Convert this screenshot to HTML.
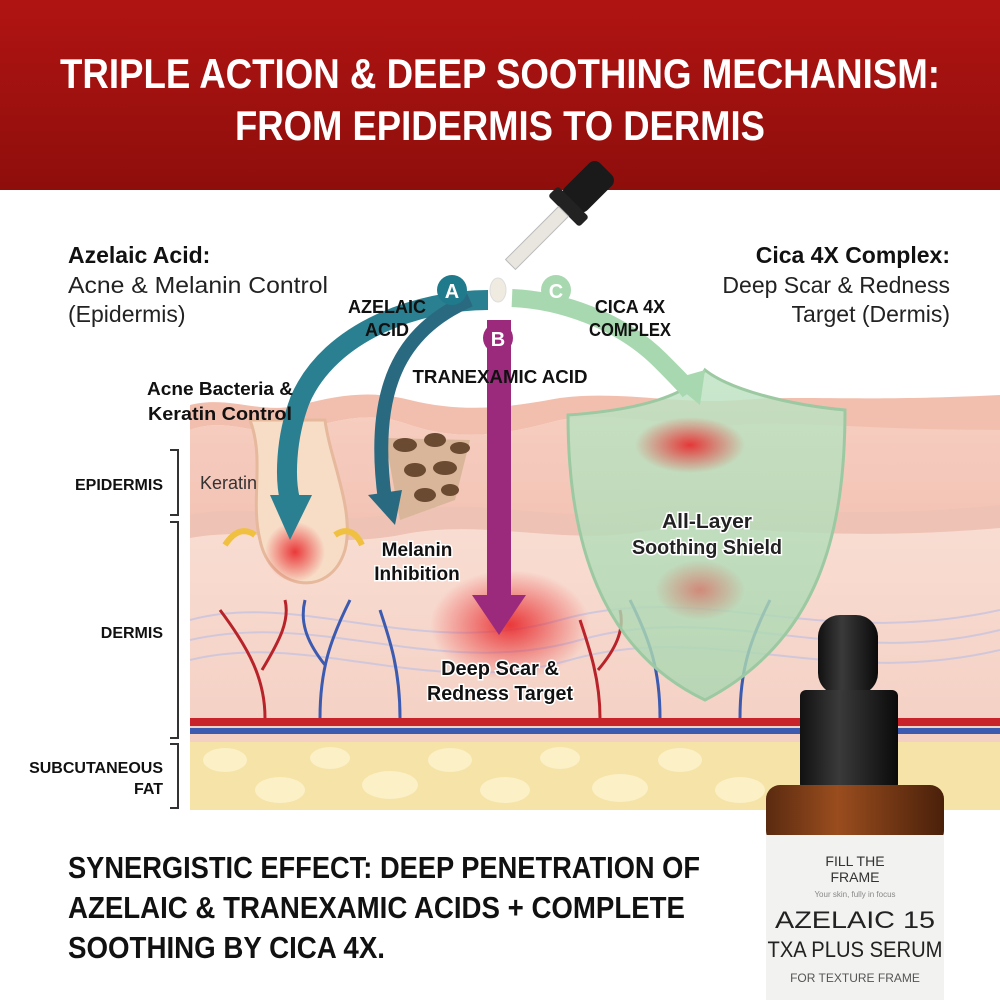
<!DOCTYPE html>
<html><head><meta charset="utf-8"><style>
html,body{margin:0;padding:0;background:#fff}
svg{display:block}
text{font-family:"Liberation Sans",sans-serif}
</style></head><body>
<svg width="1000" height="1000" viewBox="0 0 1000 1000" xmlns="http://www.w3.org/2000/svg">
<defs>
<linearGradient id="hdr" x1="0" y1="0" x2="0" y2="1"><stop offset="0" stop-color="#b01412"/><stop offset="1" stop-color="#8e0e0c"/></linearGradient>
<linearGradient id="epi" x1="0" y1="0" x2="0" y2="1"><stop offset="0" stop-color="#f6cdbf"/><stop offset="1" stop-color="#f3c4b6"/></linearGradient>
<linearGradient id="derm" x1="0" y1="0" x2="0" y2="1"><stop offset="0" stop-color="#f9ddd2"/><stop offset="1" stop-color="#f4d0c4"/></linearGradient>
<radialGradient id="red" cx="0.5" cy="0.5" r="0.5"><stop offset="0" stop-color="#e8262a" stop-opacity="0.9"/><stop offset="1" stop-color="#e8262a" stop-opacity="0"/></radialGradient>
<linearGradient id="shield" x1="0" y1="0" x2="0" y2="1"><stop offset="0" stop-color="#bfe3c3" stop-opacity="0.85"/><stop offset="1" stop-color="#a9d7b0" stop-opacity="0.8"/></linearGradient>
<linearGradient id="brown" x1="0" y1="0" x2="1" y2="0"><stop offset="0" stop-color="#5a2a10"/><stop offset="0.4" stop-color="#9a4d1e"/><stop offset="1" stop-color="#4a200a"/></linearGradient>
<linearGradient id="cap" x1="0" y1="0" x2="1" y2="0"><stop offset="0" stop-color="#111"/><stop offset="0.4" stop-color="#3a3a3a"/><stop offset="1" stop-color="#0a0a0a"/></linearGradient>
</defs>

<rect x="0" y="0" width="1000" height="190" fill="url(#hdr)"/>
<text x="500" y="88" text-anchor="middle" fill="#fff" font-size="42" font-weight="bold" textLength="880" lengthAdjust="spacingAndGlyphs">TRIPLE ACTION &amp; DEEP SOOTHING MECHANISM:</text>
<text x="500" y="140" text-anchor="middle" fill="#fff" font-size="42" font-weight="bold" textLength="530" lengthAdjust="spacingAndGlyphs">FROM EPIDERMIS TO DERMIS</text>

<rect x="190" y="742" width="810" height="68" fill="#f6e3a8"/>
<g fill="#fbf0c6">
<ellipse cx="225" cy="760" rx="22" ry="12"/><ellipse cx="280" cy="790" rx="25" ry="13"/><ellipse cx="330" cy="758" rx="20" ry="11"/>
<ellipse cx="390" cy="785" rx="28" ry="14"/><ellipse cx="450" cy="760" rx="22" ry="12"/><ellipse cx="505" cy="790" rx="25" ry="13"/>
<ellipse cx="560" cy="758" rx="20" ry="11"/><ellipse cx="620" cy="788" rx="28" ry="14"/><ellipse cx="680" cy="760" rx="22" ry="12"/>
<ellipse cx="740" cy="790" rx="25" ry="13"/></g>
<rect x="190" y="520" width="810" height="222" fill="url(#derm)"/>
<path d="M190,430 C230,415 260,440 300,430 C340,420 370,410 410,425 C470,445 520,430 560,420 C620,410 680,430 740,425 C800,420 860,430 1000,420 L1000,520 L190,520Z" fill="url(#epi)"/>
<path d="M190,405 C230,395 260,415 300,405 C340,395 370,390 410,400 C470,415 520,405 560,398 C620,390 680,405 740,400 C800,395 860,402 1000,395 L1000,430 C860,430 800,420 740,425 C680,430 620,410 560,420 C520,430 470,445 410,425 C370,410 340,420 300,430 C260,440 230,415 190,430Z" fill="#f2bfae"/>
<path d="M190,515 C260,500 320,530 400,512 C480,495 560,525 640,510 C720,495 800,525 1000,505 L1000,528 C800,545 720,518 640,532 C560,545 480,518 400,535 C320,550 260,525 190,538Z" fill="#eec2b4"/>
<g fill="none" stroke="#c8c4e0" stroke-width="2" opacity="0.8">
<path d="M190,620 C300,590 420,660 560,620 C700,580 820,650 1000,610"/>
<path d="M190,640 C320,610 440,680 580,640 C720,600 840,670 1000,630"/>
<path d="M190,660 C310,630 430,700 570,660 C710,620 830,690 1000,650"/>
</g>
<rect x="190" y="718" width="810" height="8" fill="#c8232a"/>
<rect x="190" y="728" width="810" height="6" fill="#3c5bb0"/>
<g fill="none" stroke-width="3">
<path d="M265,718 C265,680 250,650 220,610 M262,670 C280,640 290,620 285,600" stroke="#b8232a"/>
<path d="M320,718 C320,670 330,640 350,600 M325,665 C305,640 300,620 305,600" stroke="#3c5bb0"/>
<path d="M400,718 C400,670 390,640 380,610" stroke="#3c5bb0"/>
<path d="M600,718 C600,680 590,650 580,620 M598,670 C615,650 625,630 620,610" stroke="#b8232a"/>
<path d="M660,718 C660,670 650,640 630,600" stroke="#3c5bb0"/>
<path d="M740,718 C740,670 750,640 770,600" stroke="#3c5bb0"/>
</g>
<path d="M250,420 C265,460 250,500 260,540 C270,590 330,600 345,550 C355,510 330,460 325,420Z" fill="#f7dcc6" stroke="#e6b89c" stroke-width="3"/>
<circle cx="295" cy="552" r="30" fill="url(#red)"/>
<path d="M225,545 C235,530 245,528 255,535" stroke="#f0c040" stroke-width="6" fill="none"/>
<path d="M335,535 C345,528 355,530 362,545" stroke="#f0c040" stroke-width="6" fill="none"/>
<path d="M385,438 L470,440 L455,500 L400,520Z" fill="#d9b69a"/>
<g fill="#6b4a32"><ellipse cx="405" cy="445" rx="12" ry="7"/><ellipse cx="435" cy="440" rx="11" ry="7"/><ellipse cx="460" cy="448" rx="10" ry="6"/>
<ellipse cx="415" cy="470" rx="11" ry="7"/><ellipse cx="445" cy="468" rx="12" ry="7"/><ellipse cx="425" cy="495" rx="11" ry="7"/><ellipse cx="450" cy="490" rx="9" ry="6"/></g>
<ellipse cx="510" cy="625" rx="80" ry="55" fill="url(#red)"/>

<path d="M568,415 C640,410 690,395 705,370 C730,390 790,405 845,410 C845,530 820,640 705,700 C600,650 568,540 568,415Z" fill="url(#shield)" stroke="#9cc9a2" stroke-width="3"/>
<ellipse cx="690" cy="445" rx="55" ry="28" fill="url(#red)"/>
<ellipse cx="700" cy="590" rx="45" ry="30" fill="url(#red)" opacity="0.5"/>
<text x="707" y="528" text-anchor="middle" font-size="20" font-weight="bold" fill="#222" stroke="#fff" stroke-width="3" paint-order="stroke" textLength="90" lengthAdjust="spacingAndGlyphs">All-Layer</text>
<text x="707" y="554" text-anchor="middle" font-size="20" font-weight="bold" fill="#222" stroke="#fff" stroke-width="3" paint-order="stroke" textLength="150" lengthAdjust="spacingAndGlyphs">Soothing Shield</text>

<path d="M488,300 C420,300 330,330 300,400 C285,440 285,480 290,500" fill="none" stroke="#2a8090" stroke-width="20"/>
<path d="M270,495 L290,540 L312,495Z" fill="#2a8090"/>
<path d="M470,300 C400,330 370,390 385,500" fill="none" stroke="#2a6a80" stroke-width="14"/>
<path d="M368,495 L395,525 L402,490Z" fill="#2a6a80"/>
<rect x="487" y="320" width="24" height="280" fill="#9b2a7c"/>
<path d="M472,595 L499,635 L526,595Z" fill="#9b2a7c"/>
<path d="M512,298 C560,300 620,320 660,360 C675,375 685,385 690,392" fill="none" stroke="#a8d8b0" stroke-width="18"/>
<path d="M670,380 L700,405 L705,370Z" fill="#a8d8b0"/>

<g transform="rotate(45 560 215)">
<rect x="544" y="150" width="32" height="50" rx="8" fill="#1a1a1a"/>
<rect x="538" y="196" width="44" height="14" rx="3" fill="#222"/>
<rect x="553" y="210" width="14" height="75" fill="#e8e6df" stroke="#bbb"/>
</g>
<ellipse cx="498" cy="290" rx="8" ry="12" fill="#f0ebe0" stroke="#ddd"/>

<circle cx="452" cy="290" r="15" fill="#1f7a8c"/><text x="452" y="298" text-anchor="middle" fill="#fff" font-size="20" font-weight="bold">A</text>
<circle cx="498" cy="338" r="15" fill="#9b2a7c"/><text x="498" y="346" text-anchor="middle" fill="#fff" font-size="20" font-weight="bold">B</text>
<circle cx="556" cy="290" r="15" fill="#a8d8b0"/><text x="556" y="298" text-anchor="middle" fill="#fff" font-size="20" font-weight="bold">C</text>

<g font-weight="bold" fill="#111" font-size="18">
<text x="387" y="313" text-anchor="middle" textLength="78" lengthAdjust="spacingAndGlyphs">AZELAIC</text><text x="387" y="336" text-anchor="middle">ACID</text>
<text x="630" y="313" text-anchor="middle">CICA 4X</text><text x="630" y="336" text-anchor="middle" textLength="82" lengthAdjust="spacingAndGlyphs">COMPLEX</text>
<text x="500" y="383" text-anchor="middle" textLength="175" lengthAdjust="spacingAndGlyphs">TRANEXAMIC ACID</text>
<text x="220" y="395" text-anchor="middle" textLength="146" lengthAdjust="spacingAndGlyphs">Acne Bacteria &amp;</text><text x="220" y="420" text-anchor="middle" textLength="144" lengthAdjust="spacingAndGlyphs">Keratin Control</text>
</g>
<text x="68" y="263" font-size="23" font-weight="bold" fill="#111">Azelaic Acid:</text>
<text x="68" y="293" font-size="23" fill="#222" textLength="260" lengthAdjust="spacingAndGlyphs">Acne &amp; Melanin Control</text>
<text x="68" y="322" font-size="23" fill="#222">(Epidermis)</text>
<text x="950" y="263" text-anchor="end" font-size="23" font-weight="bold" fill="#111">Cica 4X Complex:</text>
<text x="950" y="293" text-anchor="end" font-size="23" fill="#222">Deep Scar &amp; Redness</text>
<text x="950" y="322" text-anchor="end" font-size="23" fill="#222">Target (Dermis)</text>

<text x="200" y="489" font-size="18" fill="#333">Keratin</text>
<text x="417" y="556" text-anchor="middle" font-size="19" font-weight="bold" fill="#111" stroke="#fff" stroke-width="3" paint-order="stroke">Melanin</text>
<text x="417" y="580" text-anchor="middle" font-size="19" font-weight="bold" fill="#111" stroke="#fff" stroke-width="3" paint-order="stroke">Inhibition</text>
<text x="500" y="675" text-anchor="middle" font-size="20" font-weight="bold" fill="#111" stroke="#fff" stroke-width="3" paint-order="stroke">Deep Scar &amp;</text>
<text x="500" y="700" text-anchor="middle" font-size="20" font-weight="bold" fill="#111" stroke="#fff" stroke-width="3" paint-order="stroke" textLength="146" lengthAdjust="spacingAndGlyphs">Redness Target</text>

<g stroke="#333" stroke-width="2" fill="none">
<path d="M170,450 L178,450 L178,515 L170,515"/>
<path d="M170,522 L178,522 L178,738 L170,738"/>
<path d="M170,744 L178,744 L178,808 L170,808"/>
</g>
<g font-size="16" font-weight="bold" fill="#111" text-anchor="end">
<text x="163" y="490">EPIDERMIS</text>
<text x="163" y="638">DERMIS</text>
<text x="163" y="773">SUBCUTANEOUS</text>
<text x="163" y="794">FAT</text>
</g>

<g font-size="31" font-weight="bold" fill="#111">
<text x="68" y="878" textLength="632" lengthAdjust="spacingAndGlyphs">SYNERGISTIC EFFECT: DEEP PENETRATION OF</text>
<text x="68" y="918" textLength="617" lengthAdjust="spacingAndGlyphs">AZELAIC &amp; TRANEXAMIC ACIDS + COMPLETE</text>
<text x="68" y="958" textLength="317" lengthAdjust="spacingAndGlyphs">SOOTHING BY CICA 4X.</text>
</g>

<rect x="818" y="615" width="60" height="80" rx="22" fill="url(#cap)"/>
<rect x="800" y="690" width="98" height="100" rx="6" fill="url(#cap)"/>
<rect x="766" y="785" width="178" height="60" rx="14" fill="url(#brown)"/>
<rect x="766" y="835" width="178" height="165" fill="#f2f2f0"/>
<text x="855" y="866" text-anchor="middle" font-size="14" fill="#333">FILL THE</text>
<text x="855" y="882" text-anchor="middle" font-size="14" fill="#333">FRAME</text>
<text x="855" y="897" text-anchor="middle" font-size="8" fill="#888">Your skin, fully in focus</text>
<text x="855" y="928" text-anchor="middle" font-size="24" fill="#222" textLength="160" lengthAdjust="spacingAndGlyphs">AZELAIC 15</text>
<text x="855" y="957" text-anchor="middle" font-size="22" fill="#222" textLength="175" lengthAdjust="spacingAndGlyphs">TXA PLUS SERUM</text>
<text x="855" y="982" text-anchor="middle" font-size="12" fill="#555">FOR TEXTURE FRAME</text>
</svg>
</body></html>
